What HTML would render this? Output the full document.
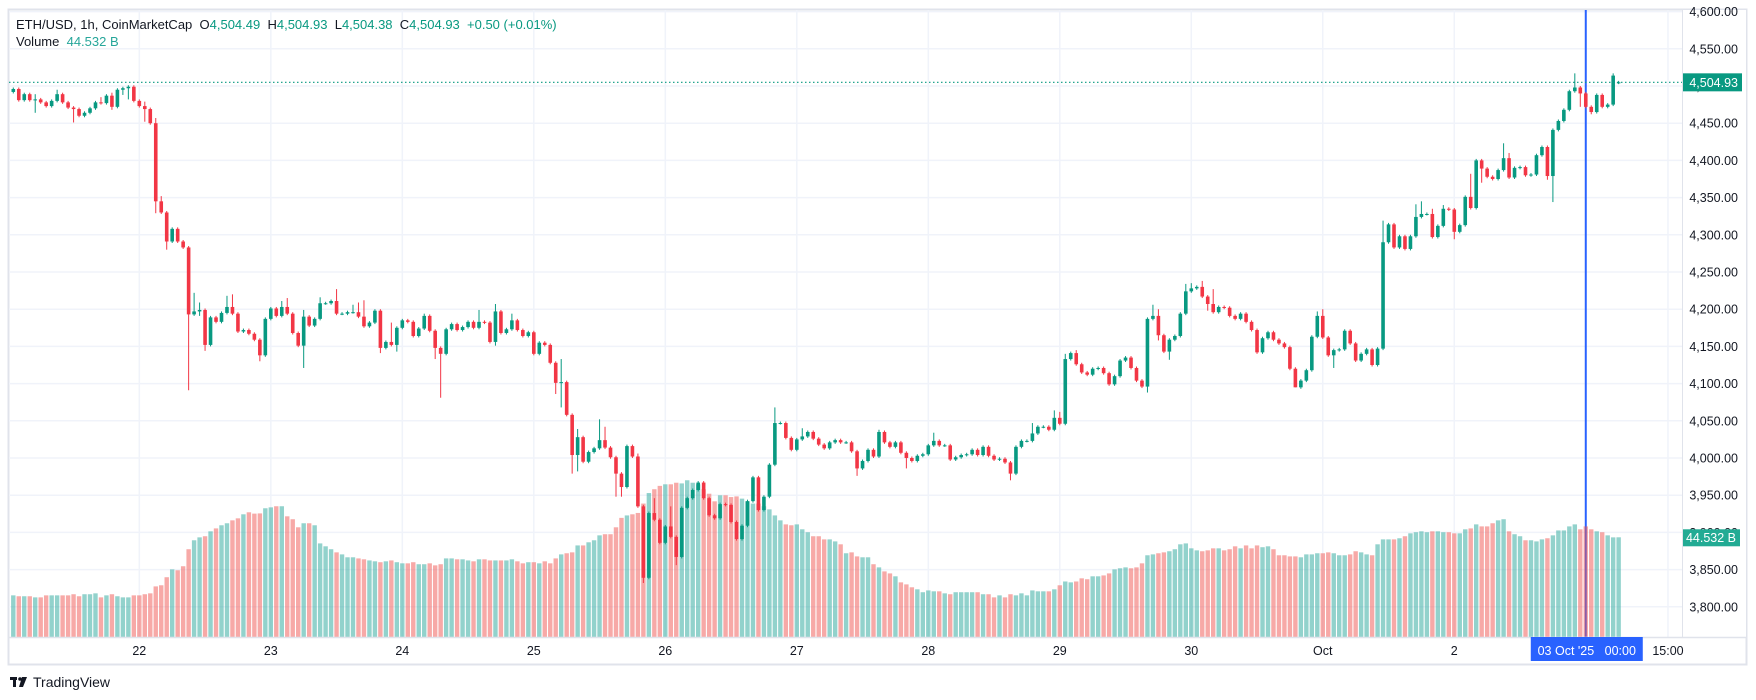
<!DOCTYPE html>
<html><head><meta charset="utf-8">
<style>
html,body{margin:0;padding:0;background:#fff;width:1756px;height:700px;overflow:hidden;font-family:"Liberation Sans",sans-serif;}
#wrap{position:relative;width:1756px;height:700px;}
svg{position:absolute;left:0;top:0;}
svg text{white-space:pre;}
</style></head>
<body>
<div id="wrap">
<svg id="chart" width="1756" height="700" viewBox="0 0 1756 700"></svg>
</div>
<script>
const closes = [
4496,4481,4489,4481,4482,4478,4473,4480,4489,4478,
4471,4469,4460,4464,4470,4478,4477,4487,4472,4495,
4497,4499,4480,4473,4469,4450,4345,4330,4291,4308,
4291,4283,4193,4197,4199,4152,4189,4183,4195,4203,
4194,4170,4172,4167,4159,4138,4187,4201,4191,4203,
4194,4168,4151,4190,4178,4187,4208,4208,4211,4194,
4194,4196,4196,4190,4177,4182,4198,4148,4156,4152,
4175,4185,4183,4164,4174,4191,4171,4148,4140,4173,
4180,4172,4176,4183,4175,4183,4182,4156,4197,4168,
4173,4185,4172,4164,4169,4140,4155,4152,4128,4101,
4102,4058,4004,4028,3995,4008,4013,4024,4014,4001,
3979,3961,4016,4002,3935,3839,3926,3917,3886,3908,
3894,3867,3933,3946,3957,3967,3946,3923,3919,3938,
3937,3914,3891,3909,3942,3974,3930,3948,3991,4047,
4047,4027,4011,4025,4029,4035,4026,4018,4013,4021,
4024,4021,4021,4009,3986,3996,4011,4002,4035,4021,
4015,4021,4007,4000,3996,4003,4005,4017,4023,4017,
4017,3998,4001,4004,4005,4011,4004,4015,4003,3998,
3999,3994,3979,4015,4023,4023,4033,4042,4042,4038,
4054,4046,4133,4141,4126,4115,4112,4120,4121,4114,
4099,4110,4131,4135,4121,4104,4096,4187,4191,4165,
4143,4159,4164,4194,4224,4228,4230,4217,4207,4196,
4203,4202,4191,4187,4194,4183,4172,4142,4161,4169,
4159,4154,4149,4120,4095,4104,4118,4163,4191,4162,
4138,4145,4146,4171,4154,4131,4140,4146,4125,4147,
4290,4314,4283,4298,4281,4298,4324,4328,4328,4297,
4312,4335,4334,4304,4313,4351,4336,4400,4389,4378,
4375,4387,4403,4377,4390,4391,4380,4381,4407,4418,
4379,4441,4453,4468,4493,4498,4490,4472,4465,4488,
4472,4475,4514,4504.93];
const firstOpen = 4492;
const openOverride = {293: 4504.49};
const highs = {4:4489,8:4495,16:4485,18:4491,20:4499,21:4501,24:4479,26:4457,27:4352,33:4222,34:4209,39:4218,40:4220,49:4211,50:4215,53:4199,56:4216,59:4227,62:4206,63:4209,64:4212,69:4182,75:4194,85:4199,88:4207,91:4194,100:4133,103:4039,107:4052,108:4042,114:4006,117:3946,120:3935,139:4068,144:4040,158:4038,168:4034,186:4047,190:4064,191:4062,192:4140,194:4145,208:4206,209:4200,214:4234,215:4235,217:4238,219:4227,238:4197,239:4200,250:4319,256:4341,257:4345,259:4335,261:4340,266:4382,272:4423,273:4410,285:4517,292:4517};
const lows = {4:4464,11:4451,18:4468,20:4488,21:4482,24:4452,25:4448,26:4329,28:4280,32:4091,34:4191,35:4144,45:4130,53:4121,67:4141,70:4143,77:4133,78:4081,88:4151,99:4086,100:4068,102:3979,103:3982,110:3948,111:3948,115:3832,121:3856,154:3976,163:3986,182:3970,207:4088,209:4158,211:4132,218:4198,234:4095,241:4121,263:4294,268:4370,280:4374,281:4344,286:4472,288:4462};
const volumes = [
18.6,18.2,18.2,18.2,17.7,17.7,18.6,18.6,18.6,18.6,
18.6,19.1,18.2,19.1,19.1,19.5,17.7,18.6,19.1,18.2,
17.7,17.7,18.6,18.6,19.1,19.5,22.6,23.1,26.7,30.2,
29.8,31.6,39.2,43.2,44.5,45.0,47.2,48.5,49.9,50.8,
52.1,53.0,54.8,55.7,55.1,55.2,57.5,57.9,58.4,58.4,
53.9,52.6,49.0,50.8,50.8,49.9,41.8,40.5,39.2,37.8,
36.9,35.6,35.6,35.1,34.7,34.2,33.8,33.4,33.8,34.2,
33.4,32.9,32.9,33.4,32.5,32.5,32.9,32.0,32.5,35.1,
35.1,34.7,34.7,34.2,33.8,34.7,34.7,34.2,34.2,34.2,
34.2,34.7,33.8,32.9,33.4,33.4,32.9,33.8,32.9,35.1,
36.9,37.4,37.8,40.9,40.9,42.3,43.2,45.4,45.9,45.9,
49.0,53.2,54.3,54.8,55.4,59.6,64.3,66.0,67.5,68.2,
68.2,68.9,68.6,70.0,68.9,68.2,66.0,64.0,60.6,63.3,
63.3,62.5,62.8,61.8,60.6,59.6,59.6,58.4,57.0,54.3,
52.1,50.3,49.9,50.3,48.1,46.8,45.0,45.0,43.6,43.6,
42.7,41.4,37.4,37.8,36.0,35.6,35.6,32.5,31.1,29.3,
28.4,27.1,24.4,23.5,22.2,21.3,20.0,20.8,20.4,20.4,
19.5,19.1,20.0,20.0,20.0,20.0,20.0,19.1,19.1,17.7,
18.6,17.7,19.1,18.6,19.5,18.6,20.8,20.4,20.4,20.4,
21.3,23.1,24.8,24.4,24.8,26.2,25.8,27.1,27.1,27.5,
28.4,30.2,30.7,31.1,30.7,31.1,32.9,36.5,36.9,37.4,
37.8,38.3,39.2,41.4,41.8,39.6,38.7,38.3,38.7,39.6,
39.6,38.7,39.2,40.5,39.6,40.9,39.6,40.9,40.1,40.5,
39.2,36.5,36.5,36.0,36.0,35.6,36.9,36.9,37.4,37.4,
37.8,37.4,36.5,36.5,36.9,38.3,37.8,36.9,36.5,41.4,
43.6,43.6,43.6,44.1,45.0,46.3,46.8,47.2,46.8,47.2,
47.2,46.8,46.8,46.3,46.3,48.1,48.5,50.3,49.4,49.4,
50.8,52.1,52.6,47.2,45.9,45.0,43.2,43.2,42.7,43.6,
44.1,45.4,47.6,47.6,49.4,50.3,48.1,49.4,48.1,47.2,
46.8,45.4,44.5,44.532];
const priceTicks = [4600,4550,4500,4450,4400,4350,4300,4250,4200,4150,4100,4050,4000,3950,3900,3850,3800];
const dayLabels = ["22","23","24","25","26","27","28","29","30","Oct","2"];
const dayHours = [23,47,71,95,119,143,167,191,215,239,263];
const crossHour = 287;
const extraLabel = "15:00";
const extraHour = 302;
const lastClose = 4504.93;
const lastVolume = "44.532 B";

const NS = "http://www.w3.org/2000/svg";
const svg = document.getElementById('chart');
const PL = 9, PR = 1682, PT = 10, PB = 637;
function xOf(i){ return 13.3 + i*5.479; }
function yOf(p){ return 86 + (4500 - p)*0.744; }
function vy(v){ return PB - v*2.239; }
function mk(tag, attrs, parent){
  const e = document.createElementNS(NS, tag);
  for (const k in attrs) e.setAttribute(k, attrs[k]);
  (parent||svg).appendChild(e);
  return e;
}
function fmt(p){ return p.toLocaleString('en-US',{minimumFractionDigits:2,maximumFractionDigits:2}); }

const frame = mk('rect',{x:8.5,y:9.5,width:1738,height:655,fill:'#fff',stroke:'#e0e3eb','stroke-width':2});



const clip = mk('clipPath',{id:'plotclip'});
mk('rect',{x:PL,y:PT,width:PR-PL,height:PB-PT},clip);

const grid = mk('g',{});


priceTicks.forEach(p=>{
  const y = yOf(p);
  if (y < PT || y > PB) return;
  const l = mk('line',{x1:PL,x2:PR,y1:y,y2:y,stroke:'#f0f3fa','stroke-width':1.5},grid);
  
  
});
dayHours.concat([extraHour]).forEach(h=>{
  const x = xOf(h);
  const l = mk('line',{x1:x,x2:x,y1:PT,y2:PB,stroke:'#f0f3fa','stroke-width':1.5},grid);
  
  
});

const ch = mk('line',{x1:xOf(crossHour),x2:xOf(crossHour),y1:PT,y2:PB,stroke:'#2962ff','stroke-width':2});



const opens = closes.map((c,i)=> openOverride[i]!==undefined ? openOverride[i] : (i===0 ? firstOpen : closes[i-1]));

const vg = mk('g',{'clip-path':'url(#plotclip)'});


volumes.forEach((v,i)=>{
  const up = closes[i] >= opens[i];
  const y = vy(v);
  const r = mk('rect',{x:xOf(i)-2.2,y:y,width:4.4,height:PB-y,fill: up?'rgba(38,166,154,0.5)':'rgba(239,83,80,0.5)'},vg);
  
  
});

const pl = mk('line',{x1:PL,x2:PR,y1:yOf(lastClose),y2:yOf(lastClose),stroke:'#089981','stroke-width':1.2,'stroke-dasharray':'1.5 2.5'});



const cg = mk('g',{'clip-path':'url(#plotclip)'});


closes.forEach((c,i)=>{
  const o = opens[i];
  const up = c >= o;
  const col = up ? '#089981' : '#f23645';
  const hi = highs[i]!==undefined ? Math.max(highs[i],o,c) : Math.max(o,c)+2;
  const lo = lows[i]!==undefined ? Math.min(lows[i],o,c) : Math.min(o,c)-2;
  const x = xOf(i);
  const g = mk('g',{},cg);
  
  
  mk('line',{x1:x,x2:x,y1:yOf(hi),y2:yOf(lo),stroke:col,'stroke-width':1},g);
  const yt = yOf(Math.max(o,c)), yb = yOf(Math.min(o,c));
  mk('rect',{x:x-1.8,y:yt,width:3.6,height:Math.max(1,yb-yt),fill:col},g);
});

const pa = mk('g',{});


mk('rect',{x:PR,y:PT,width:1746-PR,height:PB-PT,fill:'#fff'},pa);
priceTicks.forEach(p=>{
  const y = yOf(p);
  const t = mk('text',{x:1738,y:y+4.5,'text-anchor':'end','font-size':12.5,fill:'#131722'},pa);
  t.textContent = fmt(p);
  
  
});
const pb = mk('g',{});


mk('rect',{x:PR,y:yOf(lastClose)-9,width:60,height:18,fill:'#089981'},pb);
const pbt = mk('text',{x:PR+56,y:yOf(lastClose)+4.5,'text-anchor':'end','font-size':12.5,fill:'#fff'},pb);
pbt.textContent = fmt(lastClose);
const vb = mk('g',{});


const vby = vy(volumes[volumes.length-1]);
mk('rect',{x:PR,y:vby-8,width:58,height:17,fill:'#22ab94'},vb);
const vbt = mk('text',{x:PR+54,y:vby+4.5,'text-anchor':'end','font-size':12.5,fill:'#fff'},vb);
vbt.textContent = lastVolume;

const ta = mk('g',{});


mk('line',{x1:PL,x2:1746,y1:PB+0.5,y2:PB+0.5,stroke:'#e0e3eb','stroke-width':1.5},ta);
mk('line',{x1:PR+0.5,x2:PR+0.5,y1:PT,y2:PB,stroke:'#e0e3eb','stroke-width':1},ta);
dayLabels.forEach((d,k)=>{
  const t = mk('text',{x:xOf(dayHours[k]),y:655,'text-anchor':'middle','font-size':12.5,fill:'#131722'},ta);
  t.textContent = d;
  
  
});
const t15 = mk('text',{x:xOf(extraHour),y:655,'text-anchor':'middle','font-size':12.5,fill:'#131722'},ta);
t15.textContent = extraLabel;


const cb = mk('g',{});


const cx = xOf(crossHour);
mk('rect',{x:cx-55,y:PB,width:112,height:24,fill:'#2962ff'},cb);
const cbt = mk('text',{x:cx+1,y:655,'text-anchor':'middle','font-size':12.5,fill:'#fff'},cb);
cbt.textContent = "03 Oct '25   00:00";

const lg = mk('g',{});


const l1 = mk('text',{x:16,y:29,'font-size':13,fill:'#131722'},lg);
l1.innerHTML = 'ETH/USD, 1h, CoinMarketCap  O<tspan fill="#089981">4,504.49</tspan>  H<tspan fill="#089981">4,504.93</tspan>  L<tspan fill="#089981">4,504.38</tspan>  C<tspan fill="#089981">4,504.93</tspan>  <tspan fill="#089981">+0.50 (+0.01%)</tspan>';


const l2 = mk('text',{x:16,y:46,'font-size':13,fill:'#131722'},lg);
l2.innerHTML = 'Volume  <tspan fill="#26a69a">44.532 B</tspan>';



const logo = mk('g',{});


mk('rect',{x:10,y:677,width:7,height:3,fill:'#131722'},logo);
mk('rect',{x:13,y:677,width:3,height:10,fill:'#131722'},logo);
mk('circle',{cx:20,cy:679,r:1.8,fill:'#131722'},logo);
mk('path',{d:'M22 677 L27 677 L23 687 L19 687 Z',fill:'#131722'},logo);
const lt = mk('text',{x:33,y:687,'font-size':14,fill:'#131722'},logo);
lt.textContent = 'TradingView';
</script>
</body></html>
